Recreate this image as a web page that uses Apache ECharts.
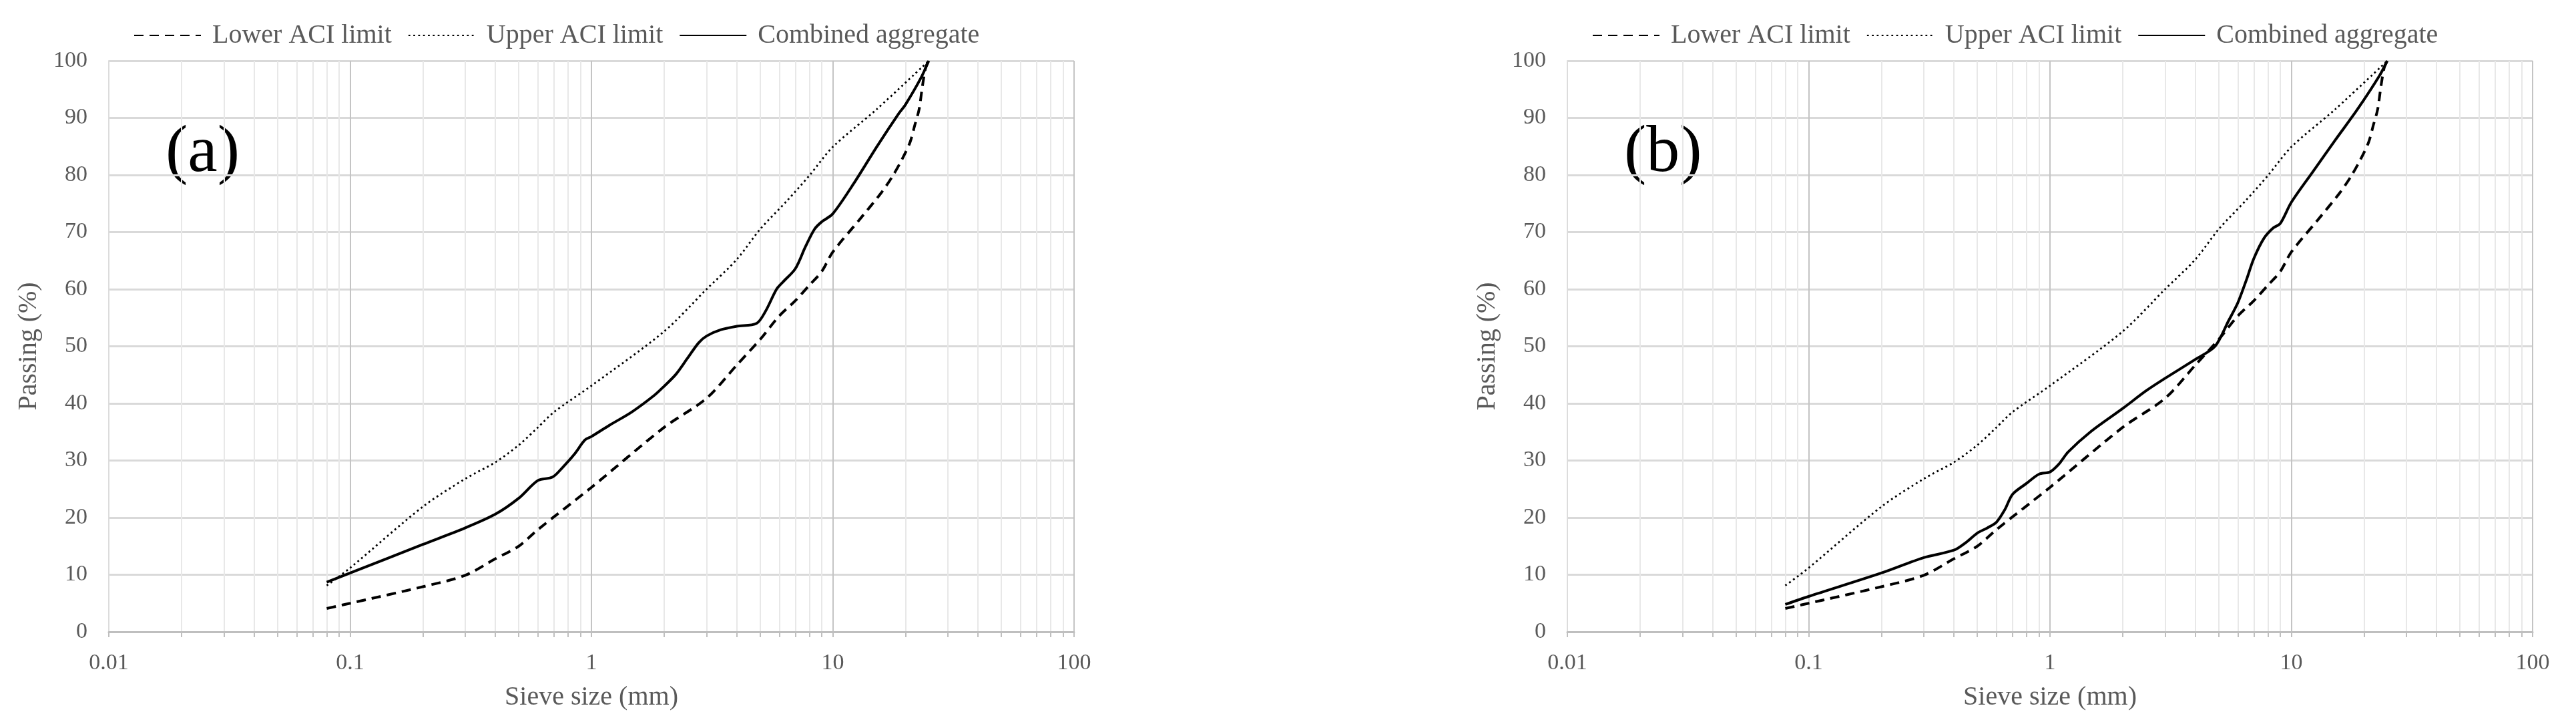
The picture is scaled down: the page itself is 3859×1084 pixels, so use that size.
<!DOCTYPE html>
<html>
<head>
<meta charset="utf-8">
<script src="https://cdn.jsdelivr.net/npm/echarts@6/dist/echarts.min.js"></script>
<style>
  html, body { margin: 0; padding: 0; background: #fff; }
  #chart { width: 3859px; height: 1084px; }
</style>
</head>
<body>
<div id="chart"></div>
<script>
// sieve sizes (mm) and passing (%)
const lowerSieve = [0.08, 0.1, 0.2, 0.3, 0.4, 0.5, 0.6, 1, 2, 3, 4, 5, 6, 7, 8, 9, 10, 12.8, 15.9, 17.7, 19.4, 20.9, 21.9, 22.8, 23.5, 24.3, 25];
const lowerPassing = [4.1, 5.0, 7.9, 9.9, 12.8, 15.0, 17.9, 25.3, 35.8, 40.9, 46.7, 51.2, 55.3, 58.0, 60.7, 63.1, 66.5, 72.0, 76.9, 79.8, 82.8, 85.7, 88.8, 91.5, 95.4, 98.9, 100];

const upperSieve = [0.08, 0.1, 0.2, 0.3, 0.4, 0.5, 0.6, 0.7, 1, 2, 3, 4, 5, 6.5, 8, 10, 15.2, 25];
const upperPassing = [8.1, 11.2, 21.9, 26.8, 29.7, 32.7, 35.8, 38.5, 43.1, 52.6, 60.0, 65.2, 70.5, 75.6, 79.9, 84.9, 91.5, 100];

const combinedSieveA = [0.08, 0.1, 0.2, 0.3, 0.4, 0.5, 0.6, 0.69, 0.76, 0.85, 0.94, 1, 1.19, 1.47, 1.82, 2, 2.24, 2.5, 2.78, 3, 3.44, 4, 4.83, 5.26, 5.85, 6.23, 7, 7.7, 8.4, 9, 10, 12.3, 15.2, 18.8, 20, 23.2, 25];
const combinedPassingA = [8.7, 10.3, 15.3, 18.2, 20.6, 23.4, 26.5, 27.1, 28.8, 31.1, 33.6, 34.2, 36.2, 38.5, 41.4, 43.0, 45.1, 47.9, 50.6, 51.8, 52.9, 53.5, 54.0, 56.1, 60.0, 61.3, 63.6, 67.4, 70.5, 71.8, 73.2, 78.7, 84.9, 90.8, 92.3, 97.0, 100];

const combinedSieveB = [0.08, 0.1, 0.2, 0.3, 0.4, 0.45, 0.5, 0.55, 0.6, 0.65, 0.7, 0.8, 0.9, 1, 1.09, 1.19, 1.47, 2, 2.5, 3, 4, 4.83, 5.5, 6, 6.5, 7, 7.7, 8.4, 9, 10, 12.3, 15.2, 18.8, 23.2, 25];
const combinedPassingB = [4.8, 6.2, 10.3, 13.0, 14.3, 15.7, 17.3, 18.2, 19.2, 21.4, 24.1, 26.0, 27.6, 28.0, 29.4, 31.5, 35.0, 39.1, 42.2, 44.4, 47.7, 50.0, 54.5, 57.6, 61.5, 65.4, 68.9, 70.7, 71.5, 75.2, 80.6, 86.1, 91.5, 97.4, 100];

const panelLabels = ['(a)', '(b)'];
const decades = [0.01, 0.1, 1, 10];
const minorSteps = [2, 3, 4, 5, 6, 7, 8, 9];

const minorValues = [];
decades.forEach(d => minorSteps.forEach(s => minorValues.push(+(d * s).toPrecision(3))));

const pairs = (xs, ys) => xs.map((x, i) => [x, ys[i]]);

const font = 'Liberation Serif';
const textGray = '#595959';

const gridLefts = [163, 2348];
const legendLefts = [195, 2380];

let grids = [], xAxes = [], yAxes = [], series = [], legends = [], graphics = [];

gridLefts.forEach((left, g) => {
  grids.push({ left: left, top: 91, width: 1446, height: 855 });

  // minor decade lines + ticks
  xAxes.push({
    type: 'log', logBase: 10, min: 0.01, max: 100, gridIndex: g, position: 'bottom',
    axisLine: { show: false },
    axisLabel: { show: false },
    axisTick: { show: true, customValues: minorValues, length: 8, lineStyle: { color: '#bfbfbf', width: 2 } },
    splitLine: { show: true, lineStyle: { color: '#e8e8e8', width: 2 } }
  });
  // major decade axis
  xAxes.push({
    type: 'log', logBase: 10, min: 0.01, max: 100, gridIndex: g, position: 'bottom',
    name: 'Sieve size (mm)', nameLocation: 'middle', nameGap: 78,
    nameTextStyle: { fontFamily: font, fontSize: 40, color: textGray },
    axisLine: { show: true, lineStyle: { color: '#bfbfbf', width: 3 } },
    axisTick: { show: true, length: 8, lineStyle: { color: '#bfbfbf', width: 2 } },
    axisLabel: { fontFamily: font, fontSize: 34, color: textGray, margin: 30, formatter: v => String(v) },
    splitLine: { show: true, lineStyle: { color: '#c4c4c4', width: 2 } }
  });

  yAxes.push({
    type: 'value', min: 0, max: 100, interval: 10, gridIndex: g,
    name: 'Passing (%)', nameLocation: 'middle', nameGap: 100,
    nameTextStyle: { fontFamily: font, fontSize: 40, color: textGray },
    axisLine: { show: true, lineStyle: { color: '#dcdcdc', width: 2 } },
    axisTick: { show: false },
    axisLabel: { fontFamily: font, fontSize: 34, color: textGray, margin: 32 },
    splitLine: { show: true, lineStyle: { color: '#d9d9d9', width: 3 } }
  });

  const xi = g * 2 + 1;
  const combined = g === 0 ? pairs(combinedSieveA, combinedPassingA) : pairs(combinedSieveB, combinedPassingB);
  series.push(
    {
      name: 'Lower ACI limit', type: 'line', xAxisIndex: xi, yAxisIndex: g,
      symbol: 'none', smooth: 0.3, data: pairs(lowerSieve, lowerPassing),
      lineStyle: { color: '#000', width: 4, type: [14, 9] }, itemStyle: { color: '#000' }
    },
    {
      name: 'Upper ACI limit', type: 'line', xAxisIndex: xi, yAxisIndex: g,
      symbol: 'none', smooth: 0.3, data: pairs(upperSieve, upperPassing),
      lineStyle: { color: '#000', width: 2.8, type: [2.8, 4.5] }, itemStyle: { color: '#000' }
    },
    {
      name: 'Combined aggregate', type: 'line', xAxisIndex: xi, yAxisIndex: g,
      symbol: 'none', smooth: 0.3, data: combined,
      lineStyle: { color: '#000', width: 4 }, itemStyle: { color: '#000' }
    }
  );

  legends.push({
    left: legendLefts[g], top: 28, itemWidth: 100, itemHeight: 20, itemGap: 24,
    itemStyle: { opacity: 0 },
    textStyle: { fontFamily: font, fontSize: 40, color: textGray, padding: [0, 0, 0, 12] },
    data: ['Lower ACI limit', 'Upper ACI limit', 'Combined aggregate']
  });

  graphics.push({
    type: 'text', left: left + 85, top: 180,
    style: { text: panelLabels[g], fontFamily: font, fontSize: 100, fill: '#000' }
  });
});

const chart = echarts.init(document.getElementById('chart'));
chart.setOption({
  animation: false,
  backgroundColor: '#fff',
  grid: grids,
  xAxis: xAxes,
  yAxis: yAxes,
  legend: legends,
  series: series,
  graphic: graphics
});
</script>
</body>
</html>
